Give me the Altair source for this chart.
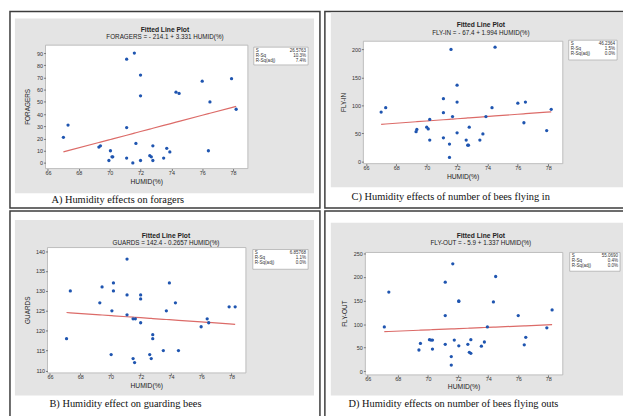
import altair as alt
import pandas as pd

# ---------------- data ----------------
A_humid = [67.0, 67.3, 69.3, 69.4, 70.05, 69.95, 70.15, 70.2, 71.1, 71.1, 71.1, 71.6, 71.5, 71.7,
           72.0, 72.0, 72.0, 72.6, 72.7, 72.8, 72.8, 73.5, 73.7, 73.9, 74.3, 74.5, 76.0, 76.4,
           76.5, 77.9, 78.2]
A_foragers = [21, 31, 13, 14, 10, 2, 5, 5, 85, 29, 4, 90, 0, 16, 72, 55, 2, 6, 5, 14, 2, 4, 12,
              9, 58, 57, 67, 10, 50, 69, 44]

C_humid = [67.0, 67.3, 69.3, 69.35, 70.0, 70.1, 70.2, 70.2, 71.1, 71.1, 71.1, 71.6, 71.5, 71.5,
           71.7, 72.0, 72.0, 72.0, 72.6, 72.7, 72.75, 72.8, 73.5, 73.7, 73.9, 74.3, 74.5, 76.0,
           76.4, 76.5, 77.9, 78.2]
C_flyin = [88, 96, 53, 57, 61, 58, 75, 38, 112, 87, 42, 200, 31, 7, 80, 136, 106, 51, 38, 29,
           29, 61, 38, 49, 80, 96, 204, 104, 69, 106, 55, 93]

B_humid = [67.1, 67.35, 69.3, 69.45, 70.2, 70.2, 70.1, 70.05, 71.1, 71.1, 71.1, 71.5, 71.65,
           71.5, 71.6, 72.0, 72.0, 72.0, 72.6, 72.7, 72.8, 72.8, 73.5, 73.7, 73.9, 74.3, 74.5,
           76.0, 76.4, 76.5, 77.85, 78.25]
B_guards = [118, 130, 127, 131, 132, 130, 125, 114, 138, 129, 124, 123, 123, 113, 112, 129, 128,
            122, 114, 113, 119, 118, 115, 125, 132, 127, 115, 121, 123, 122, 126, 126]

D_humid = [67.1, 67.4, 69.4, 69.5, 70.1, 70.2, 70.3, 70.3, 71.15, 71.15, 71.15, 71.65, 71.55,
           71.55, 71.75, 72.05, 72.05, 72.05, 72.65, 72.75, 72.85, 72.85, 73.55, 73.75, 73.95,
           74.35, 74.5, 76.0, 76.4, 76.5, 77.9, 78.25]
D_flyout = [94, 168, 45, 59, 67, 66, 66, 47, 189, 118, 57, 228, 31, 13, 66, 149, 148, 54, 57,
            40, 38, 67, 53, 62, 94, 147, 201, 118, 56, 72, 92, 130]

x_ticks = [66, 68, 70, 72, 74, 76, 78]
A_yticks = [0, 10, 20, 30, 40, 50, 60, 70, 80, 90]
C_yticks = [0, 50, 100, 150, 200]
B_yticks = [110, 115, 120, 125, 130, 135, 140]
D_yticks = [0, 50, 100, 150, 200, 250]

A_fit = (-214.1, 3.331)
C_fit = (-67.4, 1.994)
B_fit = (142.4, -0.2657)
D_fit = (-5.9, 1.337)

A_stats = ["26.5763", "10.3%", "7.4%"]
C_stats = ["46.2364", "1.5%", "0.0%"]
B_stats = ["6.85768", "1.1%", "0.0%"]
D_stats = ["55.0690", "0.4%", "0.0%"]
stat_labels = ["S", "R-Sq", "R-Sq(adj)"]

A_eq = "FORAGERS = - 214.1 + 3.331 HUMID(%)"
C_eq = "FLY-IN = - 67.4 + 1.994 HUMID(%)"
B_eq = "GUARDS = 142.4 - 0.2657 HUMID(%)"
D_eq = "FLY-OUT = - 5.9 + 1.337 HUMID(%)"

A_cap = "A) Humidity effects on foragers"
C_cap = "C) Humidity effects of number of bees flying in"
B_cap = "B) Humidity effect on guarding bees"
D_cap = "D) Humidity effects on number of bees flying outs"

# ---------------- layout: page pixels (x1, x2, y1, y2) ----------------
OX, OY = 8, 8          # page margin
VW, VH = 623, 408      # whole drawing area

PAN = {
    "A": dict(border=(10, 324, 8.8, 208), gray=(15, 318, 16, 193), plot=(46, 251, 43, 168),
              xdom=[65.84, 78.96], ydom=[-4.6, 96.5], stats=(257, 312, 45, 63),
              title=(167, 28, 35), cap=(52, 200), xt=(148.5, 182), yt=(28, 105.5)),
    "C": dict(border=(329, 633, 8.8, 208), gray=(335, 631, 10, 187), plot=(368, 570, 39, 163),
              xdom=[65.83, 78.96], ydom=[-4.0, 214.6], stats=(576, 625, 38, 58),
              title=(487, 23, 31), cap=(356, 197), xt=(469, 176.5), yt=(348, 101)),
    "B": dict(border=(10, 324, 211, 430), gray=(15, 318, 220, 398), plot=(48, 249, 248, 375),
              xdom=[65.84, 78.96], ydom=[109.4, 140.9], stats=(256, 312, 250, 270),
              title=(168, 236, 243), cap=(50, 407), xt=(148.5, 388.5), yt=(28, 311.5)),
    "D": dict(border=(329, 633, 211, 430), gray=(335, 631, 223, 398), plot=(370, 570, 253, 377),
              xdom=[65.84, 78.96], ydom=[-7.8, 252.0], stats=(577, 628, 253, 272),
              title=(487, 236, 243), cap=(353, 407), xt=(470, 389), yt=(349, 315)),
}

SANS = "Liberation Sans"
SERIF = "Liberation Serif"
ONE = alt.Data(values=[{}])


def rect(box, **kw):
    x1, x2, y1, y2 = box
    return alt.Chart(ONE).mark_rect(**kw).encode(
        x=alt.value(x1 - OX), x2=alt.value(x2 - OX), y=alt.value(y1 - OY), y2=alt.value(y2 - OY))


def text(x, y, s, **kw):
    return alt.Chart(ONE).mark_text(text=s, **kw).encode(
        x=alt.value(x - OX), y=alt.value(y - OY))


def panel(key, humid, vals, yname, yticks, fit, eq, stats, caption):
    P = PAN[key]
    px1, px2, py1, py2 = P["plot"]
    sx1, sx2, sy1, sy2 = P["stats"]
    decor = [
        rect(P["border"], fillOpacity=0, stroke="#3c3c3c", strokeWidth=1.5),
        rect(P["gray"], fill="#e4e4e4"),
        rect(P["plot"], fill="white", stroke="#b0b0b0", strokeWidth=0.8),
        rect(P["stats"], fill="white", stroke="#9a9a9a", strokeWidth=0.6),
    ]
    for i, (lab, v) in enumerate(zip(stat_labels, stats)):
        yy = sy1 + 3.8 + i * 5
        decor.append(text(sx1 + 2, yy, lab, align="left", baseline="middle",
                          fontSize=4.6, font=SANS, color="#333"))
        decor.append(text(sx2 - 2, yy, v, align="right", baseline="middle",
                          fontSize=4.6, font=SANS, color="#333"))
    tx, ty1, ty2 = P["title"]
    decor += [
        text(tx, ty1, "Fitted Line Plot", align="center", baseline="middle",
             fontSize=6.8, fontWeight="bold", font=SANS, color="#222"),
        text(tx, ty2, eq, align="center", baseline="middle",
             fontSize=6.4, font=SANS, color="#222"),
        text(P["xt"][0], P["xt"][1], "HUMID(%)", align="center", baseline="middle",
             fontSize=6.8, font=SANS, color="#222"),
        text(P["yt"][0], P["yt"][1], yname, align="center", baseline="middle", angle=270,
             fontSize=6.5, font=SANS, color="#222"),
        text(P["cap"][0], P["cap"][1], caption, align="left", baseline="middle",
             fontSize=10.5, font=SERIF, color="#111"),
    ]

    df = pd.DataFrame({"HUMID": humid, "VAL": vals})
    xs = alt.Scale(domain=P["xdom"], range=[px1 - OX, px2 - OX], nice=False, zero=False)
    ys = alt.Scale(domain=P["ydom"], range=[py2 - OY, py1 - OY], nice=False, zero=False)
    common = dict(title=None, domain=False, grid=False, tickSize=2, tickColor="#777",
                  labelFontSize=5.5, labelFont=SANS, labelColor="#333", zindex=1)
    xa = alt.Axis(values=x_ticks, orient="bottom", offset=(py2 - OY) - VH, labelPadding=0,
                  **common)
    ya = alt.Axis(values=yticks, orient="left", offset=-(px1 - OX), labelPadding=1, **common)

    a, b = fit
    line = alt.Chart(df).transform_calculate(FIT=f"{a} + {b} * datum.HUMID").mark_line(
        color="#dc6b68", strokeWidth=1.2).encode(
        x=alt.X("HUMID:Q", scale=xs, axis=None),
        y=alt.Y("FIT:Q", scale=ys, axis=None),
        order="HUMID:Q")
    pts = alt.Chart(df).mark_circle(size=11, color="#1f55b0", opacity=1).encode(
        x=alt.X("HUMID:Q", scale=xs, axis=xa),
        y=alt.Y("VAL:Q", scale=ys, axis=ya))
    return decor, [line, pts]


decor_all, data_all = [], []
for args in [
    ("A", A_humid, A_foragers, "FORAGERS", A_yticks, A_fit, A_eq, A_stats, A_cap),
    ("C", C_humid, C_flyin, "FLY-IN", C_yticks, C_fit, C_eq, C_stats, C_cap),
    ("B", B_humid, B_guards, "GUARDS", B_yticks, B_fit, B_eq, B_stats, B_cap),
    ("D", D_humid, D_flyout, "FLY-OUT", D_yticks, D_fit, D_eq, D_stats, D_cap),
]:
    d, m = panel(*args)
    decor_all += d
    data_all += m

chart = alt.layer(*decor_all, *data_all).resolve_scale(
    x="independent", y="independent"
).resolve_axis(
    x="independent", y="independent"
).properties(
    width=VW, height=VH, padding=0,
    autosize=alt.AutoSizeParams(type="none"),
    background="white",
).configure_view(stroke=None)

chart.save("out.html", embed_options={"renderer": "svg", "actions": False})
